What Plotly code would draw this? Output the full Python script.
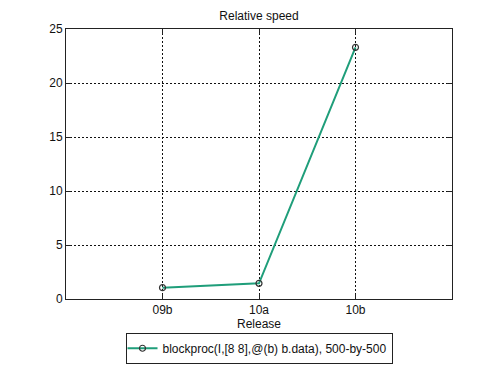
import plotly.graph_objects as go

releases = ["09b", "10a", "10b"]
positions = [1, 2, 3]
speed = [1.05, 1.45, 23.3]
series_name = "blockproc(I,[8 8],@(b) b.data), 500-by-500"
y_ticks = [0, 5, 10, 15, 20, 25]

FONT = "Liberation Sans, Arial"

fig = go.Figure()
fig.add_trace(go.Scatter(
    x=positions, y=speed, mode="lines+markers", name=series_name,
    line=dict(color="#1f9e7a", width=2),
    marker=dict(symbol="circle-open", size=6, color="#333333", line=dict(width=1.2)),
))

axis_common = dict(
    showline=True, linecolor="#222222", linewidth=1, mirror="ticks",
    ticks="inside", ticklen=5, tickcolor="#222222",
    showgrid=True, gridcolor="#111111", gridwidth=1, griddash="2px,2px",
    zeroline=False, automargin=False,
    tickfont=dict(family=FONT, size=12, color="#111111"),
)

fig.update_layout(
    width=500, height=376,
    margin=dict(l=58, r=56, t=21, b=85, autoexpand=False),
    paper_bgcolor="white", plot_bgcolor="white",
    title=dict(text="Relative speed", x=0.502, xanchor="center", y=0.979, yanchor="middle",
               font=dict(family=FONT, size=12, color="#111111")),
    xaxis=dict(range=[0, 4], tickvals=positions, ticktext=releases,
               title=dict(text="Release", standoff=2,
                          font=dict(family=FONT, size=12, color="#111111")),
               **axis_common),
    yaxis=dict(range=[0, 25], tickvals=y_ticks, **axis_common),
    showlegend=True,
    legend=dict(orientation="h", x=0.5, xanchor="center", y=-0.125, yanchor="top",
                bordercolor="#222222", borderwidth=1, bgcolor="white",
                itemwidth=30, tracegroupgap=0, indentation=-4,
                font=dict(family=FONT, size=12, color="#111111")),
    font=dict(family=FONT, size=12),
)

fig.write_html("out.html")
